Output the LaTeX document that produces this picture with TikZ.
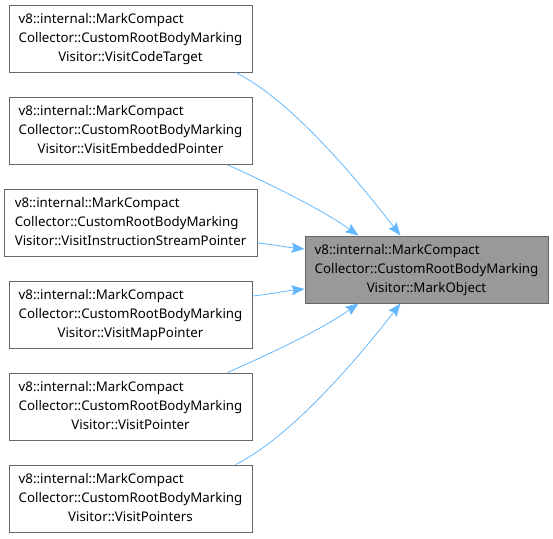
\documentclass[tikz,border=0pt]{standalone}
\usepackage{fontspec}
\setmainfont{Noto Sans}
\usetikzlibrary{arrows.meta}
\definecolor{edgeblue}{HTML}{63B8FF}
\definecolor{nodegray}{HTML}{999999}
\newcommand\lbl[3]{\begin{tabular}{@{}l@{}}#1\\#2\\\multicolumn{1}{@{}c@{}}{#3}\end{tabular}}
\begin{document}
\begin{tikzpicture}[x=1pt,y=-1pt,
  box/.style={draw=black!60,line width=0.8pt,fill=white,align=center,inner sep=0pt,
    font=\fontsize{13.3}{19}\selectfont},
  edge/.style={draw=edgeblue,line width=0.8pt,-{Stealth[length=13pt,width=10pt,inset=2pt]}}]
\useasboundingbox (0,0) rectangle (553,538);
\node[box,minimum width=243,minimum height=67] (n1) at (130.5,38.5) {\lbl{v8::internal::MarkCompact}{Collector::CustomRootBodyMarking}{Visitor::VisitCodeTarget}};
\node[box,minimum width=243,minimum height=67] (n2) at (130.5,131) {\lbl{v8::internal::MarkCompact}{Collector::CustomRootBodyMarking}{Visitor::VisitEmbeddedPointer}};
\node[box,minimum width=253,minimum height=67] (n3) at (130.5,222.5) {\lbl{v8::internal::MarkCompact}{Collector::CustomRootBodyMarking}{Visitor::VisitInstructionStreamPointer}};
\node[box,minimum width=243,minimum height=67] (n4) at (130.5,314.5) {\lbl{v8::internal::MarkCompact}{Collector::CustomRootBodyMarking}{Visitor::VisitMapPointer}};
\node[box,minimum width=243,minimum height=67] (n5) at (130.5,406.5) {\lbl{v8::internal::MarkCompact}{Collector::CustomRootBodyMarking}{Visitor::VisitPointer}};
\node[box,minimum width=243,minimum height=67] (n6) at (130.5,498.5) {\lbl{v8::internal::MarkCompact}{Collector::CustomRootBodyMarking}{Visitor::VisitPointers}};
\node[box,fill=nodegray,minimum width=243,minimum height=67] (m) at (426.5,269.5) {\lbl{v8::internal::MarkCompact}{Collector::CustomRootBodyMarking}{Visitor::MarkObject}};
\draw[edge] ([xshift=105]n1.south) .. controls +(60,30) and +(-35,-45) .. ([xshift=-26]m.north);
\draw[edge] ([xshift=97]n2.south) .. controls +(45,20) and +(-35,-25) .. ([xshift=-68]m.north);
\draw[edge] (n3.east |- 0,243) .. controls +(20,2) and +(-20,-2) .. (m.west |- 0,249);
\draw[edge] (n4.east |- 0,296) .. controls +(20,-2) and +(-20,2) .. (m.west |- 0,289);
\draw[edge] ([xshift=97]n5.north) .. controls +(45,-20) and +(-35,25) .. ([xshift=-68]m.south);
\draw[edge] ([xshift=105]n6.north) .. controls +(60,-30) and +(-35,45) .. ([xshift=-26]m.south);
\end{tikzpicture}
\end{document}
